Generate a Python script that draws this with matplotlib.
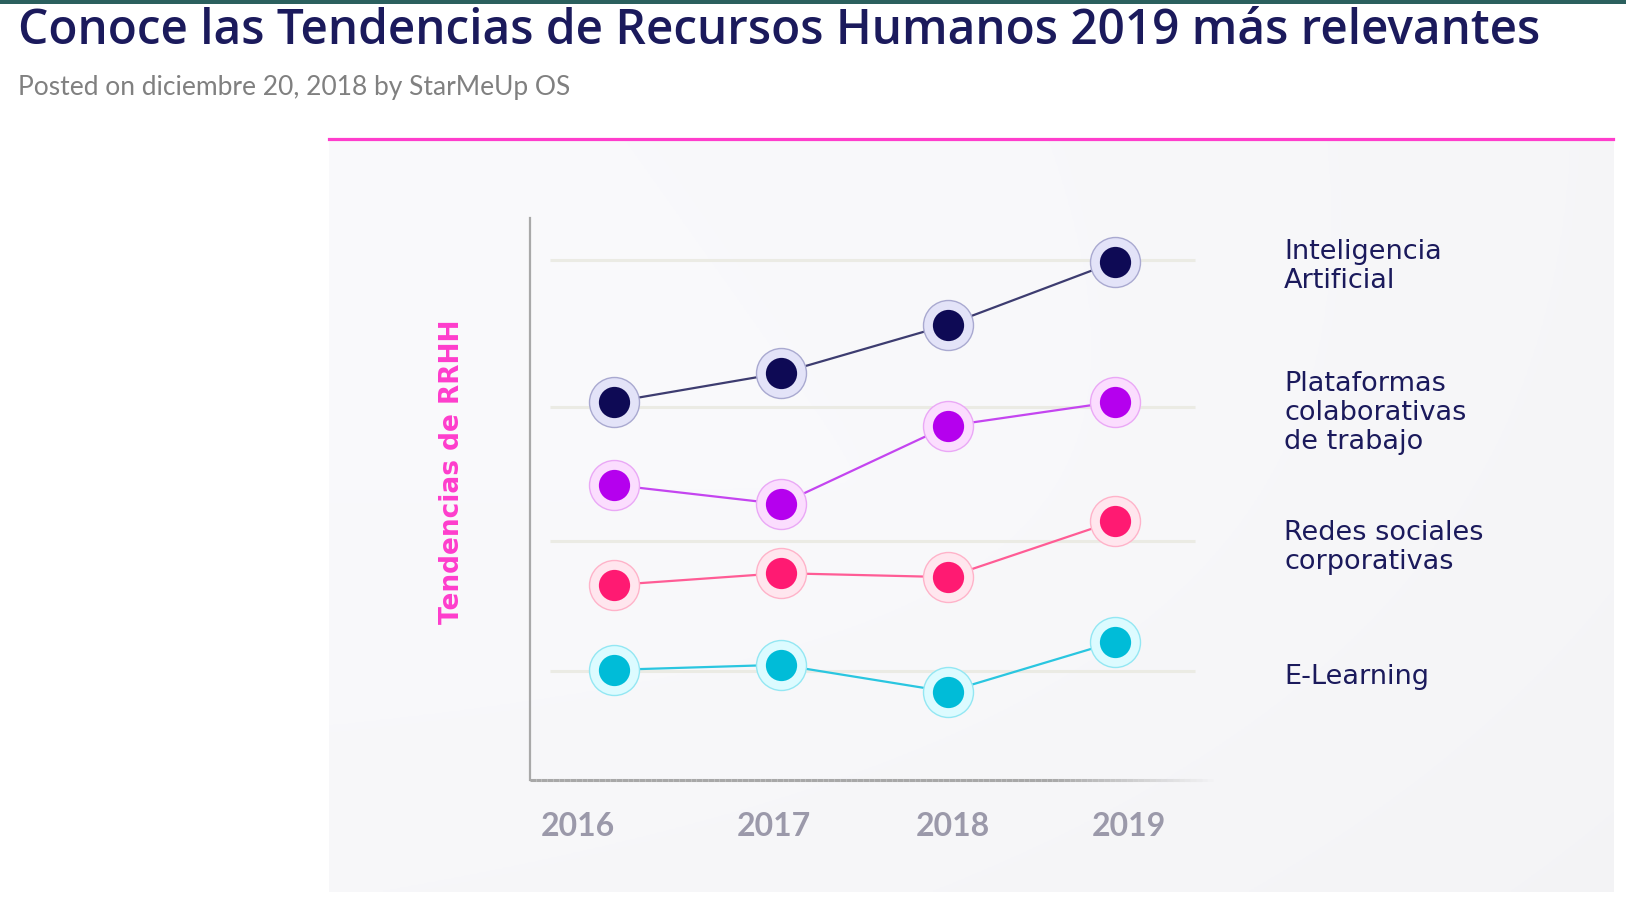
import numpy as np
import matplotlib.pyplot as plt
from matplotlib.lines import Line2D
from matplotlib.patches import Rectangle
from matplotlib.collections import LineCollection

# Datos (escala relativa 0-100)
years = [2016, 2017, 2018, 2019]
ia = [67.3, 72.4, 81.0, 92.2]
plataformas = [52.5, 49.1, 63.0, 67.3]
redes = [34.7, 36.8, 36.1, 46.1]
elearning = [19.6, 20.5, 15.7, 24.6]
niveles = [92.5, 66.3, 42.5, 19.4]
nombres = ["Inteligencia\nArtificial",
           "Plataformas\ncolaborativas\nde trabajo",
           "Redes sociales\ncorporativas",
           "E-Learning"]

# colores: punto, anillo, borde del anillo, linea
estilos = [
    ("#0e0a55", "#e3e3f8", "#a9a9d0", "#3d3c70"),
    ("#b500ee", "#fbddfe", "#eaa8f6", "#c445f0"),
    ("#ff1a72", "#ffe6ee", "#ffb3c9", "#ff5c95"),
    ("#00bcd8", "#dcfbff", "#93e7f3", "#2ac6e0"),
]
series = [ia, plataformas, redes, elearning]

W, H = 1626, 910
fig = plt.figure(figsize=(W / 100, H / 100), dpi=100)
fig.patch.set_facecolor("white")

# barra superior
fig.add_artist(Rectangle((0, 1 - 4 / H), 1, 4 / H, transform=fig.transFigure,
                         color="#2b605e", lw=0))

fig.text(18 / W, 1 - 44 / H, "Conoce las Tendencias de Recursos Humanos 2019 más relevantes",
         fontsize=34.4, color="#1b1a5c", fontweight="semibold", family="Open Sans",
         va="baseline")
fig.text(18 / W, 1 - 95 / H, "Posted on diciembre 20, 2018 by StarMeUp OS",
         fontsize=19, color="#808080", family="Lato", va="baseline")

# panel de la imagen con degradado suave
px0, px1, py0, py1 = 329, 1613, 139, 892
bg = fig.add_axes([px0 / W, (H - py1) / H, (px1 - px0) / W, (py1 - py0) / H])
gx, gy = np.meshgrid(np.linspace(0, 1, 400), np.linspace(0, 1, 300))
r = np.sqrt((gx - 0.4) ** 2 + (gy - 0.45) ** 2)
shade = 0.985 - 0.012 * gx - 0.008 * gy - 0.012 * r
bg.imshow(np.dstack([shade, shade, shade + 0.008]).clip(0, 1), aspect="auto",
          extent=[0, 1, 0, 1])
bg.axis("off")
fig.add_artist(Line2D([px0 / W, px1 / W], [1 - py0 / H] * 2, color="#ff3dcc", lw=2.3))

# area del grafico
ax_l, ax_r, ax_t, ax_b = 530, 1213, 218, 780
ax = fig.add_axes([ax_l / W, (H - ax_b) / H, (ax_r - ax_l) / W, (ax_b - ax_t) / H])
ax.patch.set_alpha(0)
step = 167.0
x0 = years[0] - (614 - ax_l) / step
x1 = years[0] + (ax_r - 614) / step
ax.set_xlim(x0, x1)
ax.set_ylim(0, 100)

gx0 = years[0] - (614 - 550) / step
gx1 = years[0] + (1195 - 614) / step
for lv in niveles:
    ax.hlines(lv, gx0, gx1, color="#ebebe4", lw=2.2, zorder=1)

for vals, (c_in, c_ring, c_edge, c_line) in zip(series, estilos):
    ax.plot(years, vals, color=c_line, lw=1.6, zorder=2)
    ax.plot(years, vals, "o", ms=36, mfc=c_ring, mec=c_edge, mew=1.0, zorder=3)
    ax.plot(years, vals, "o", ms=22.5, mfc=c_in, mec=c_in, mew=0, zorder=4)

for lv, nombre in zip(niveles, nombres):
    ax.annotate(nombre, (years[-1] + 1, lv), xytext=(2, -6), textcoords="offset pixels",
                fontsize=19.5, color="#1b1a5c", family="DejaVu Sans", ha="left",
                va="center", linespacing=1.15, annotation_clip=False)

# etiquetas de anos (desplazadas como en el original)
desp = [-36, -7, 5, 14]
for yr, dx in zip(years, desp):
    ax.annotate(str(yr), (yr, 0), xytext=(dx, -47), textcoords="offset pixels",
                fontsize=23, color="#9b99aa", family="Lato", fontweight="bold",
                ha="center", va="center", annotation_clip=False)

ax.text(-0.114, 0.548, "Tendencias de RRHH", transform=ax.transAxes, rotation=90,
        fontsize=19, color="#ff3dcc", fontweight="bold", family="DejaVu Sans",
        ha="center", va="center")

for s in ["top", "right", "bottom"]:
    ax.spines[s].set_visible(False)
ax.spines["left"].set_color("#a9a9a9")
ax.spines["left"].set_linewidth(1.6)
ax.set_xticks([])
ax.set_yticks([])

# eje horizontal que se desvanece hacia la derecha
xs = np.linspace(x0, x1, 120)
segs = [[(xs[i], 0), (xs[i + 1], 0)] for i in range(len(xs) - 1)]
fade = np.clip((x1 - xs[:-1]) / (x1 - 2018.6), 0, 1)
cols = [(0.66, 0.66, 0.66, a) for a in fade]
lc = LineCollection(segs, colors=cols, lw=2.2, clip_on=False, zorder=5)
ax.add_collection(lc)

fig.savefig("out.png", dpi=100)
